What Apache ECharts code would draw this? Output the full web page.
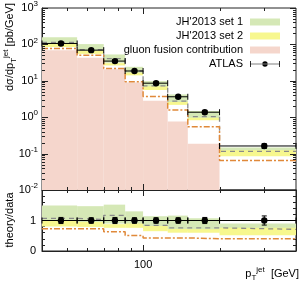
<!DOCTYPE html>
<html><head><meta charset="utf-8">
<script src="https://cdn.jsdelivr.net/npm/echarts@6/dist/echarts.min.js"></script>
<style>html,body{margin:0;padding:0;background:#fff}#c{width:300px;height:281px}</style>
</head><body><div id="c"></div>
<script>
// ---- data ----
const binEdges   = [40, 55, 70, 85, 100, 125, 150, 200, 400];
const binCenters = [47.5, 62.5, 77.5, 92.5, 112.5, 137.5, 175, 300];
const atlas      = [106, 69.5, 34.8, 18.6, 8.6, 3.64, 1.37, 0.162];
const atlasErr   = [11, 6.3, 3.5, 1.7, 0.77, 0.33, 0.14, 0.024];
const set1Hi     = [158, 102, 52.9, 24.2, 9.8, 4.22, 1.47, 0.146];
const set1Lo     = [100.7, 64.6, 31.3, 16.4, 6.19, 2.40, 0.904, 0.097];
const set2Hi     = [103.9, 66.0, 30.6, 16.7, 7.05, 2.62, 0.973, 0.123];
const set2Lo     = [84.8, 54.9, 26.4, 14.1, 5.59, 2.18, 0.822, 0.0842];
const set1Line   = [113.4, 71.6, 40.7, 18.6, 7.22, 2.77, 1.04, 0.115];
const set2Line   = [77.4, 50.7, 21.9, 9.49, 3.70, 1.57, 0.548, 0.0648];
const gluonFusion= [69.5, 43, 20.7, 9.0, 2.83, 0.76, 0.187, 0];

const ratioSet1Hi   = [1.49, 1.47, 1.52, 1.30, 1.14, 1.16, 1.07, 0.90];
const ratioSet1Lo   = [0.95, 0.93, 0.90, 0.88, 0.72, 0.66, 0.66, 0.60];
const ratioSet2Hi   = [0.98, 0.95, 0.88, 0.90, 0.82, 0.72, 0.71, 0.76];
const ratioSet2Lo   = [0.80, 0.79, 0.76, 0.76, 0.65, 0.60, 0.60, 0.52];
const ratioSet1Line = [1.07, 1.03, 1.17, 1.00, 0.84, 0.76, 0.76, 0.71];
const ratioSet2Line = [0.73, 0.73, 0.63, 0.51, 0.43, 0.43, 0.40, 0.40];
const ratioData     = [1, 1, 1, 1, 1, 1, 1, 1];
const ratioErr      = [0.10, 0.09, 0.10, 0.09, 0.09, 0.09, 0.10, 0.15];

const xMajorTicks = [100];
const xMinorTicks = [50, 60, 70, 80, 90, 200, 300];
const xTickLabels = ['100'];
const yMainRange  = [0.01, 1000];
const xRange      = [40, 400];
const ratioRange  = [0, 2];

// ---- style ----
const FONT = 'Liberation Sans, Arial, Helvetica, sans-serif';
const C_GREEN = '#d5e8b6', C_YELLOW = '#f7f78e', C_PINK = '#f5d6cc';
const C_ORANGE = '#e0893a', C_GRAY = '#8a8a8a', C_AX = '#222';

const chart = echarts.init(document.getElementById('c'), null, { renderer: 'canvas' });

// ---- builders ----
const bandData = (lo, hi) => lo.map((v, i) => [binEdges[i], binEdges[i + 1], v, hi[i]]);
const pinkData = gluonFusion.map((v, i) => [binEdges[i], binEdges[i + 1], yMainRange[0], v]).filter(d => d[3] > 0);
const stepData = vals => binEdges.map((e, i) => [e, vals[Math.min(i, vals.length - 1)]]);
const pointData = (vals, errs) => vals.map((v, i) => [binCenters[i], v, errs[i], binEdges[i], binEdges[i + 1]]);

function rectItem(params, api) {
  const p1 = api.coord([api.value(0), api.value(3)]);
  const p2 = api.coord([api.value(1), api.value(2)]);
  return { type: 'rect', shape: { x: p1[0], y: p1[1], width: p2[0] - p1[0], height: p2[1] - p1[1] },
           style: { fill: api.visual('color') } };
}
function pointItem(params, api) {
  const x = api.value(0), v = api.value(1), e = api.value(2);
  const c = api.coord([x, v]);
  const l = api.coord([api.value(3), v]), r = api.coord([api.value(4), v]);
  const t = api.coord([x, v + e]), b = api.coord([x, v - e]);
  const st = { stroke: '#000', lineWidth: 1 };
  return { type: 'group', children: [
    { type: 'line', shape: { x1: l[0], y1: c[1], x2: r[0], y2: c[1] }, style: st },
    { type: 'line', shape: { x1: l[0], y1: c[1] - 3, x2: l[0], y2: c[1] + 3 }, style: st },
    { type: 'line', shape: { x1: r[0], y1: c[1] - 3, x2: r[0], y2: c[1] + 3 }, style: st },
    { type: 'line', shape: { x1: c[0], y1: t[1], x2: c[0], y2: b[1] }, style: st },
    { type: 'line', shape: { x1: c[0] - 2.5, y1: t[1], x2: c[0] + 2.5, y2: t[1] }, style: st },
    { type: 'line', shape: { x1: c[0] - 2.5, y1: b[1], x2: c[0] + 2.5, y2: b[1] }, style: st },
    { type: 'circle', shape: { cx: c[0], cy: c[1], r: 3.2 }, style: { fill: '#000' } }
  ]};
}
function xTickItem(yLo, yHi) {
  return function (params, api) {
    const v = api.value(0), len = api.value(1) ? 6 : 3;
    const b = api.coord([v, yLo]), t = api.coord([v, yHi]);
    const st = { stroke: C_AX, lineWidth: 1 };
    const x = Math.round(b[0]) + 0.5;
    return { type: 'group', children: [
      { type: 'line', shape: { x1: x, y1: b[1], x2: x, y2: b[1] - len }, style: st },
      { type: 'line', shape: { x1: x, y1: t[1], x2: x, y2: t[1] + len }, style: st }
    ]};
  };
}
function yTickItem(params, api) {
  const v = api.value(1), len = api.value(2) ? 6 : 3;
  const l = api.coord([xRange[0], v]), r = api.coord([xRange[1], v]);
  const st = { stroke: C_AX, lineWidth: 1 };
  const y = Math.round(l[1]) + 0.5;
  return { type: 'group', children: [
    { type: 'line', shape: { x1: l[0], y1: y, x2: l[0] + len, y2: y }, style: st },
    { type: 'line', shape: { x1: r[0], y1: y, x2: r[0] - len, y2: y }, style: st }
  ]};
}
const xTickData = xMajorTicks.map(v => [v, 1]).concat(xMinorTicks.map(v => [v, 0]));
const yTickData = [];
for (let k = -2; k <= 3; k++) {
  yTickData.push([xRange[0], Math.pow(10, k), 1]);
  if (k < 3) for (let m = 2; m <= 9; m++) yTickData.push([xRange[0], m * Math.pow(10, k), 0]);
}

const atlasIcon = 'path://M0,3.2L30,3.2L30,3.8L0,3.8Z M0,0.5L0.8,0.5L0.8,6.5L0,6.5Z M29.2,0.5L30,0.5L30,6.5L29.2,6.5Z M12.3,3.5a2.7,2.7 0 1,0 5.4,0a2.7,2.7 0 1,0 -5.4,0Z';

const rich = {
  b: { fontFamily: FONT, fontSize: 11, color: '#000', lineHeight: 16 },
  s: { fontFamily: FONT, fontSize: 8, color: '#000', verticalAlign: 'top', lineHeight: 10 },
  u: { fontFamily: FONT, fontSize: 8, color: '#000', verticalAlign: 'bottom', lineHeight: 10 }
};

const option = {
  animation: false,
  backgroundColor: '#fff',
  textStyle: { fontFamily: FONT },
  grid: [
    { left: 42, right: 4, top: 6, height: 184, show: true, borderColor: C_AX, borderWidth: 1, backgroundColor: 'transparent' },
    { left: 42, right: 4, top: 190, height: 61, show: true, borderColor: C_AX, borderWidth: 1, backgroundColor: 'transparent' }
  ],
  xAxis: [
    { type: 'log', logBase: 10, gridIndex: 0, min: xRange[0], max: xRange[1],
      axisLine: { show: true, lineStyle: { color: C_AX } }, axisTick: { show: false },
      axisLabel: { show: false }, splitLine: { show: false } },
    { type: 'log', logBase: 10, gridIndex: 1, min: xRange[0], max: xRange[1],
      axisLine: { show: true, lineStyle: { color: C_AX } }, axisTick: { show: false },
      axisLabel: { show: true, margin: 8, fontSize: 11, color: '#000', fontFamily: FONT,
        showMinLabel: false, showMaxLabel: false,
        formatter: v => { const i = xMajorTicks.findIndex(t => Math.abs(t - v) < 0.5); return i >= 0 ? xTickLabels[i] : ''; } },
      splitLine: { show: false } }
  ],
  yAxis: [
    { type: 'log', logBase: 10, gridIndex: 0, min: yMainRange[0], max: yMainRange[1],
      axisLine: { show: true, lineStyle: { color: C_AX } }, axisTick: { show: false },
      splitLine: { show: false },
      axisLabel: { margin: 4, formatter: v => '{b|10}{s|' + Math.round(Math.log10(v)) + '}', rich: rich } },
    { type: 'value', gridIndex: 1, min: ratioRange[0], max: ratioRange[1], interval: 1,
      axisLine: { show: true, lineStyle: { color: C_AX } },
      axisTick: { show: true, inside: true, length: 6, lineStyle: { color: C_AX } },
      minorTick: { show: true, splitNumber: 5, length: 3, lineStyle: { color: C_AX } },
      splitLine: { show: false }, minorSplitLine: { show: false },
      axisLabel: { margin: 6, fontSize: 11, color: '#000', fontFamily: FONT, showMaxLabel: false } },
    { type: 'value', gridIndex: 1, position: 'right', min: ratioRange[0], max: ratioRange[1], interval: 1,
      axisLine: { show: true, lineStyle: { color: C_AX } },
      axisTick: { show: true, inside: true, length: 6, lineStyle: { color: C_AX } },
      minorTick: { show: true, splitNumber: 5, length: 3, lineStyle: { color: C_AX } },
      splitLine: { show: false }, minorSplitLine: { show: false }, axisLabel: { show: false } }
  ],
  legend: {
    orient: 'vertical', align: 'right', right: 15, top: 11,
    itemWidth: 30, itemHeight: 7, itemGap: 2,
    textStyle: { fontSize: 11, color: '#000', fontFamily: FONT, lineHeight: 12, padding: [0, 2, 0, 0] },
    selectedMode: false,
    data: [
      { name: "JH'2013 set 1", icon: 'rect' },
      { name: "JH'2013 set 2", icon: 'rect' },
      { name: 'gluon fusion contribution', icon: 'rect' },
      { name: 'ATLAS', icon: atlasIcon, itemStyle: { color: '#000' } }
    ]
  },
  graphic: [
    { type: 'text', x: 10, y: 3, rotation: Math.PI / 2, silent: true,
      style: { text: '{b|dσ/dp}{u|T}{s|jet}{b| [pb/GeV]}', rich: rich, align: 'right', verticalAlign: 'middle' } },
    { type: 'text', x: 10, y: 220, rotation: Math.PI / 2, silent: true,
      style: { text: '{b|theory/data}', rich: rich, align: 'center', verticalAlign: 'middle' } },
    { type: 'text', x: 299, y: 274, silent: true,
      style: { text: '{b|p}{u|T}{s|jet}{b|  [GeV]}', rich: rich, align: 'right', verticalAlign: 'middle' } }
  ],
  series: [
    { name: 'gluon fusion contribution', type: 'custom', xAxisIndex: 0, yAxisIndex: 0, z: 1,
      itemStyle: { color: C_PINK }, renderItem: rectItem, encode: { x: [0, 1], y: [2, 3] }, data: pinkData },
    { name: "JH'2013 set 1", type: 'custom', xAxisIndex: 0, yAxisIndex: 0, z: 2,
      itemStyle: { color: C_GREEN }, renderItem: rectItem, encode: { x: [0, 1], y: [2, 3] }, data: bandData(set1Lo, set1Hi) },
    { name: "JH'2013 set 2", type: 'custom', xAxisIndex: 0, yAxisIndex: 0, z: 3,
      itemStyle: { color: C_YELLOW }, renderItem: rectItem, encode: { x: [0, 1], y: [2, 3] }, data: bandData(set2Lo, set2Hi) },
    { name: 'set1 line', type: 'line', step: 'end', xAxisIndex: 0, yAxisIndex: 0, z: 4, symbol: 'none', silent: true,
      lineStyle: { color: C_GRAY, width: 1.3, type: [5, 4] }, data: stepData(set1Line) },
    { name: 'set2 line', type: 'line', step: 'end', xAxisIndex: 0, yAxisIndex: 0, z: 4, symbol: 'none', silent: true,
      lineStyle: { color: C_ORANGE, width: 1.5, type: [6, 2, 2, 2] }, data: stepData(set2Line) },
    { name: 'ATLAS', type: 'custom', xAxisIndex: 0, yAxisIndex: 0, z: 6,
      itemStyle: { color: '#000' }, renderItem: pointItem, encode: { x: 0, y: 1 }, data: pointData(atlas, atlasErr) },
    { name: 'xticks main', type: 'custom', xAxisIndex: 0, yAxisIndex: 0, z: 7, silent: true,
      renderItem: xTickItem(yMainRange[0], yMainRange[1]), encode: { x: 0 }, data: xTickData.map(d => [d[0], 1, d[1]]).map(d => [d[0], d[2]]) },
    { name: 'yticks main', type: 'custom', xAxisIndex: 0, yAxisIndex: 0, z: 7, silent: true,
      renderItem: yTickItem, encode: { x: 0, y: 1 }, data: yTickData },
    { name: 'r set1', type: 'custom', xAxisIndex: 1, yAxisIndex: 1, z: 2,
      itemStyle: { color: C_GREEN }, renderItem: rectItem, encode: { x: [0, 1], y: [2, 3] }, data: bandData(ratioSet1Lo, ratioSet1Hi) },
    { name: 'r set2', type: 'custom', xAxisIndex: 1, yAxisIndex: 1, z: 3,
      itemStyle: { color: C_YELLOW }, renderItem: rectItem, encode: { x: [0, 1], y: [2, 3] }, data: bandData(ratioSet2Lo, ratioSet2Hi) },
    { name: 'r set1 line', type: 'line', step: 'end', xAxisIndex: 1, yAxisIndex: 1, z: 4, symbol: 'none', silent: true,
      lineStyle: { color: C_GRAY, width: 1.3, type: [5, 4] }, data: stepData(ratioSet1Line) },
    { name: 'r set2 line', type: 'line', step: 'end', xAxisIndex: 1, yAxisIndex: 1, z: 4, symbol: 'none', silent: true,
      lineStyle: { color: C_ORANGE, width: 1.5, type: [6, 2, 2, 2] }, data: stepData(ratioSet2Line) },
    { name: 'r unity', type: 'line', xAxisIndex: 1, yAxisIndex: 1, z: 5, symbol: 'none', silent: true,
      lineStyle: { color: '#333', width: 1 }, data: [[xRange[0], 1], [xRange[1], 1]] },
    { name: 'r data', type: 'custom', xAxisIndex: 1, yAxisIndex: 1, z: 6,
      renderItem: pointItem, encode: { x: 0, y: 1 }, data: pointData(ratioData, ratioErr) },
    { name: 'xticks ratio', type: 'custom', xAxisIndex: 1, yAxisIndex: 1, z: 7, silent: true,
      renderItem: xTickItem(ratioRange[0], ratioRange[1]), encode: { x: 0 }, data: xTickData }
  ]
};
chart.setOption(option);
</script>
</body></html>
